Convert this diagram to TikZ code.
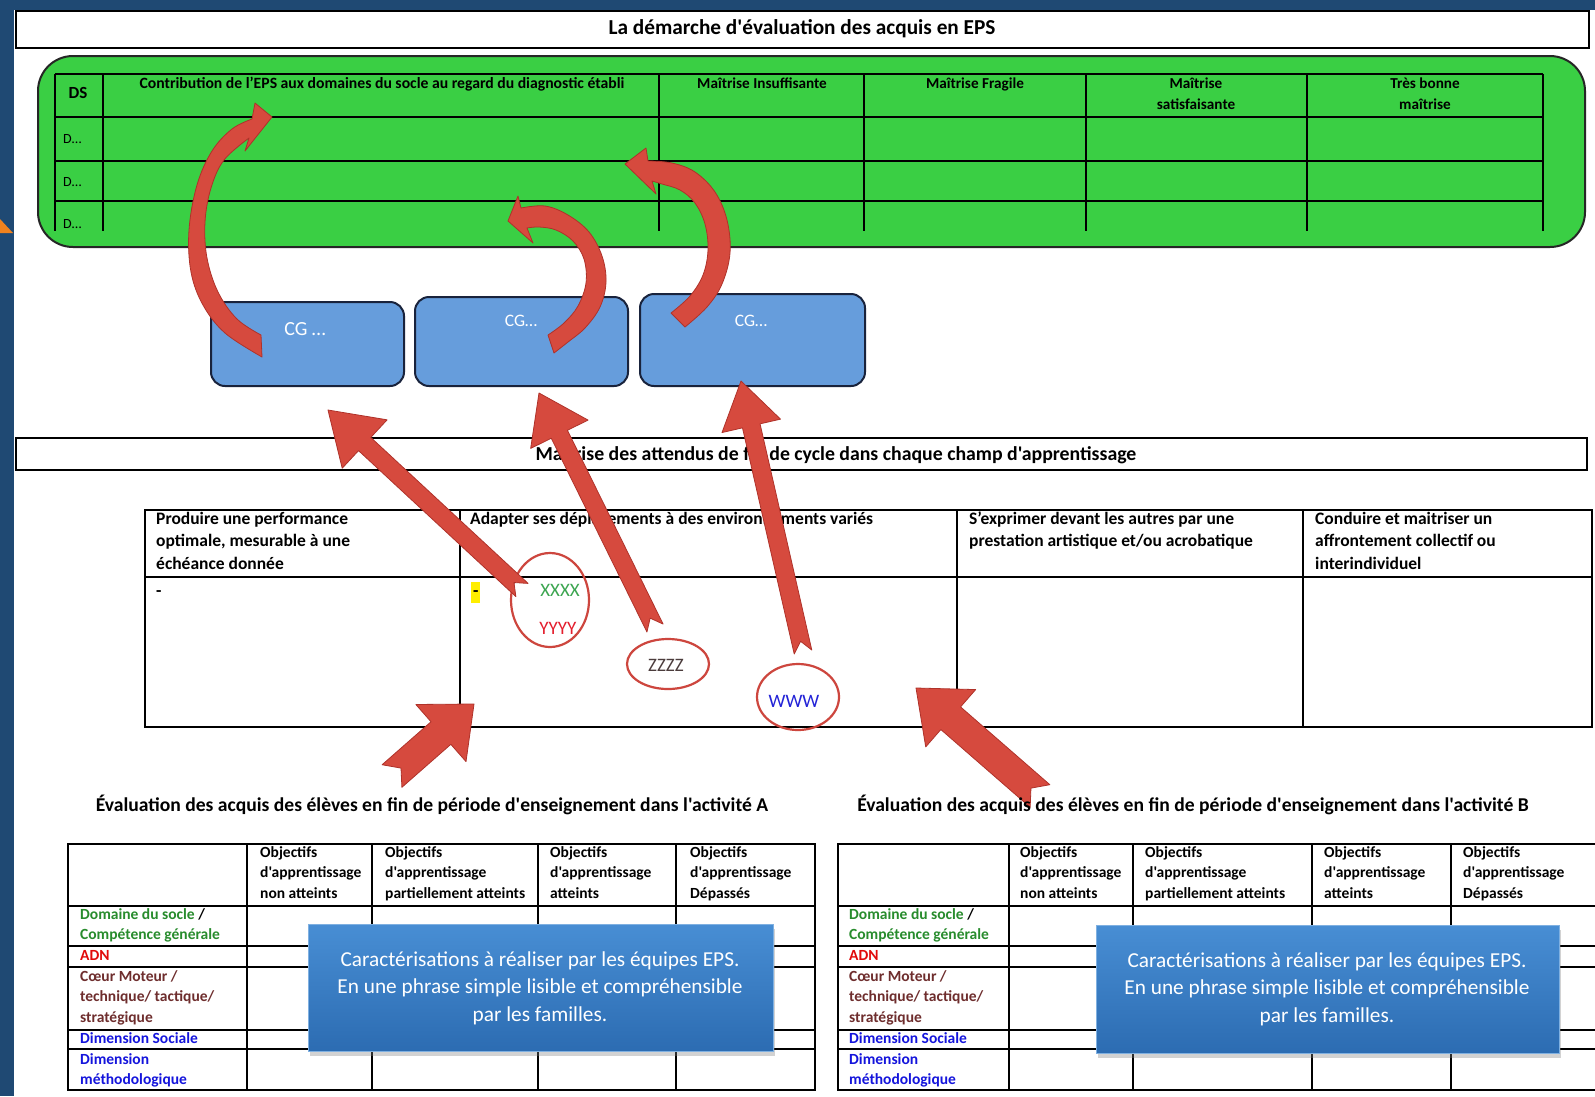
\documentclass[tikz,border=0pt]{standalone}
\usepackage{fontspec}
\setmainfont{Carlito}[Ligatures=TeXOff]
\usetikzlibrary{calc,shapes.geometric,shadows}

\definecolor{navy}{RGB}{31,73,115}
\definecolor{bggreen}{RGB}{58,207,68}
\definecolor{cgblue}{RGB}{102,157,220}
\definecolor{cgborder}{RGB}{25,35,60}
\definecolor{arrowred}{RGB}{214,74,62}
\definecolor{arrowdark}{RGB}{175,50,42}
\definecolor{ellred}{RGB}{205,70,62}
\definecolor{xgreen}{RGB}{60,165,80}
\definecolor{yred}{RGB}{228,30,45}
\definecolor{zgray}{RGB}{75,60,60}
\definecolor{wblue}{RGB}{35,35,215}
\definecolor{lgreen}{RGB}{40,140,45}
\definecolor{lred}{RGB}{225,10,10}
\definecolor{lbrown}{RGB}{110,45,45}
\definecolor{lblue}{RGB}{20,20,220}
\definecolor{calltop}{RGB}{72,142,212}
\definecolor{callbot}{RGB}{44,108,178}
\definecolor{hlyellow}{RGB}{255,238,0}
\definecolor{orangetri}{RGB}{240,130,30}

\newcommand{\bigredarrow}[7]{%
  \coordinate (#1t) at #2;
  \coordinate (#1h) at #3;
  \coordinate (#1b) at ($(#1h)!#6!(#1t)$);
  \path[redarrow] ($(#1t)!#4!90:(#1h)$) -- ($(#1b)!#4!90:(#1h)$) -- ($(#1b)!#5!90:(#1h)$) -- (#1h)
     -- ($(#1b)!#5!-90:(#1h)$) -- ($(#1b)!#4!-90:(#1h)$) -- ($(#1t)!#4!-90:(#1h)$) -- ($(#1t)!#7!(#1h)$) -- cycle;
}
\newcommand{\rowlabels}[2]{%
  \node[bcell] (#2l1) at (#1,919) {\textcolor{lgreen}{Domaine du socle} /\\\textcolor{lgreen}{Compétence générale}};
  \node[bcell, text=lred] (#2l2) at (#1,960) {ADN};
  \node[bcell, text=lbrown] (#2l3) at (#1,981) {Cœur Moteur /\\technique/ tactique/\\stratégique};
  \node[bcell, text=lblue] (#2l4) at (#1,1043) {Dimension Sociale};
  \node[bcell, text=lblue] (#2l5) at (#1,1064) {Dimension\\méthodologique};
}
\newcommand{\objheads}[5]{%
  \node[bcell] (#1o1) at (#2,857) {Objectifs\\d'apprentissage\\non atteints};
  \node[bcell] (#1o2) at (#3,857) {Objectifs\\d'apprentissage\\partiellement atteints};
  \node[bcell] (#1o3) at (#4,857) {Objectifs\\d'apprentissage\\atteints};
  \node[bcell] (#1o4) at (#5,857) {Objectifs\\d'apprentissage\\Dépassés};
}

\begin{document}
\begin{tikzpicture}[x=1pt,y=-1pt,
  titlebox/.style={draw=black, line width=1.6pt, fill=white, inner sep=0pt},
  titletext/.style={font=\bfseries\fontsize{21.3}{25}\selectfont, inner sep=0pt},
  greenbox/.style={draw=black!85, line width=2pt, fill=bggreen, rounded corners=35pt, inner sep=0pt},
  gridline/.style={draw=black, line width=2pt},
  thinline/.style={draw=black, line width=1.8pt},
  ghead/.style={font=\bfseries\fontsize{15.2}{21}\selectfont, inner sep=0pt, anchor=base, align=flush center, text width=210pt},
  dlabel/.style={font=\fontsize{14}{16}\selectfont, inner sep=0pt, anchor=west},
  cgbox/.style={draw=cgborder, fill=cgblue, line width=2pt, rounded corners=14pt, inner sep=0pt},
  cgtext/.style={text=white, inner sep=0pt},
  tcell/.style={anchor=base west, inner sep=0pt, align=flush left, text width=330pt, font=\bfseries\fontsize{17.5}{22.5}\selectfont},
  bcell/.style={anchor=base west, inner sep=0pt, align=flush left, text width=220pt, font=\bfseries\fontsize{15.5}{20.7}\selectfont},
  ell/.style={ellipse, draw=ellred, line width=2.2pt, inner sep=0pt},
  ltext/.style={font=\fontsize{19}{22}\selectfont, inner sep=0pt},
  redarrow/.style={fill=arrowred, draw=arrowdark, line width=0.8pt, line join=round},
  callout/.style={top color=calltop, bottom color=callbot, draw=calltop!70!white, line width=1pt, inner sep=0pt,
     drop shadow={opacity=0.35, shadow xshift=2pt, shadow yshift=-5pt}},
  calltext/.style={text=white, align=center, font=\fontsize{21.3}{27.5}\selectfont, inner sep=0pt},
  blabel/.style={font=\bfseries\fontsize{19.6}{23}\selectfont, inner sep=0pt}
]
\useasboundingbox (0,0) rectangle (1595,1096);
% background
\fill[navy] (0,0) rectangle (1595,1096);
\fill[white] (14,10) rectangle (1595,1096);
\fill[orangetri] (0,219) -- (13,233) -- (0,233) -- cycle;

% ---------- top title ----------
\node[titlebox, minimum width=1573pt, minimum height=37pt] (t1) at (802.5,29.5) {};
\node[titletext] (t1txt) at (802,29) {La démarche d'évaluation des acquis en EPS};

% ---------- green table ----------
\node[greenbox, minimum width=1547pt, minimum height=191pt] (gbox) at (811.5,151.5) {};
\foreach \yy in {74,117,161,201} \draw[gridline] (55,\yy) -- (1543,\yy);
\foreach \xx in {55,103,659,864,1086,1307,1543} \draw[gridline] (\xx,74) -- (\xx,231);
\node[font=\bfseries\fontsize{17}{20}\selectfont, inner sep=0pt] (ds) at (78,93) {DS};
\node[ghead, text width=540pt, font=\bfseries\fontsize{15.7}{21}\selectfont] (gh1) at (382,88) {Contribution de l’EPS aux domaines du socle au regard du diagnostic établi};
\node[ghead] (gh2) at (762,88) {Maîtrise Insuffisante};
\node[ghead] (gh3) at (975,88) {Maîtrise Fragile};
\node[ghead] (gh4) at (1196,88) {Maîtrise\\satisfaisante};
\node[ghead] (gh5) at (1425,88) {Très bonne\\maîtrise};
\node[dlabel] (d1) at (63,139) {D…};
\node[dlabel] (d2) at (63,182) {D…};
\node[dlabel] (d3) at (63,224) {D…};

% ---------- CG boxes ----------
\node[cgbox, minimum width=193pt, minimum height=84pt] (cg1) at (307.5,344) {};
\node[cgbox, minimum width=213pt, minimum height=89pt] (cg2) at (521.5,341.5) {};
\node[cgbox, minimum width=225pt, minimum height=92pt] (cg3) at (752.5,340) {};
\node[cgtext, font=\fontsize{20}{24}\selectfont] (cg1t) at (305,329) {CG …};
\node[cgtext, font=\fontsize{17.5}{21}\selectfont] (cg2t) at (521,321) {CG…};
\node[cgtext, font=\fontsize{17.5}{21}\selectfont] (cg3t) at (751,321) {CG…};

% ---------- curved arrows ----------
\path[redarrow] (272,117) -- (255,103) -- (252,119)
  -- plot[smooth, tension=0.6] coordinates {(252,119) (232,129) (212,151) (197,185) (189,230) (191,272) (203,305) (225,333) (262,357)}
  -- (261,335)
  -- plot[smooth, tension=0.6] coordinates {(261,335) (237,319) (218,292) (207,258) (205,222) (211,188) (224,160) (249,138)}
  -- (245,151) -- cycle;
\path[redarrow] (508,221) -- (518,196) -- (521,208)
  -- plot[smooth, tension=0.6] coordinates {(521,208) (545,206) (568,215) (589,232) (602,256) (606,282) (600,307) (585,328) (568,342) (554,353)}
  -- (548,335)
  -- plot[smooth, tension=0.6] coordinates {(548,335) (564,323) (578,306) (586,283) (584,259) (573,241) (556,230) (539,227) (527,228)}
  -- (533,243) -- cycle;
\path[redarrow] (625,164) -- (646,148) -- (648,161)
  -- plot[smooth, tension=0.6] coordinates {(648,161) (672,163) (695,172) (715,192) (727,220) (730,253) (722,284) (707,307) (685,327)}
  -- (671,313)
  -- plot[smooth, tension=0.6] coordinates {(671,313) (690,296) (703,275) (708,250) (705,224) (695,203) (680,190) (662,184) (652,181)}
  -- (656,194) -- cycle;

% ---------- middle title ----------
\node[titlebox, minimum width=1571pt, minimum height=32pt] (t2) at (801.5,454) {};
\node[titletext, font=\bfseries\fontsize{19.8}{24}\selectfont] (t2txt) at (836,455) {Maitrise des attendus de fin de cycle dans chaque champ d'apprentissage};

% ---------- middle table ----------
\draw[gridline] (145,510) rectangle (1592,727);
\draw[gridline] (145,577) -- (1592,577);
\foreach \xx in {460,957,1303} \draw[gridline] (\xx,510) -- (\xx,727);
\node[tcell] (m1) at (156,524) {Produire une performance\\optimale, mesurable à une\\échéance donnée};
\node[tcell, text width=480pt] (m2) at (470,524) {Adapter ses déplacements à des environnements variés};
\node[tcell] (m3) at (969,524) {S’exprimer devant les autres par une\\prestation artistique et/ou acrobatique};
\node[tcell] (m4) at (1315,524) {Conduire et maitriser un\\affrontement collectif ou\\interindividuel};
\node[tcell] (m5) at (156,596) {-};
\fill[hlyellow] (471,582) rectangle (480,603);
\node[tcell] (m6) at (473,596) {-};

% ellipses
\node[ell, minimum width=78pt, minimum height=94pt] (e1) at (550,600) {};
\node[ltext, text=xgreen] (xx) at (560,590) {XXXX};
\node[ltext, text=yred] (yy) at (558,628) {YYYY};
\node[ell, minimum width=82pt, minimum height=50pt] (e2) at (668,664) {};
\node[ltext, text=zgray] (zz) at (666,665) {ZZZZ};
\node[ell, minimum width=82pt, minimum height=66pt] (e3) at (798,697) {};
\node[ltext, text=wblue] (ww) at (794,701) {WWW};

% straight arrows to CG boxes
\bigredarrow{aa}{(522,590)}{(328,410)}{9pt}{33pt}{50pt}{11pt}
\bigredarrow{ab}{(655,628)}{(539,393)}{9pt}{32pt}{46pt}{11pt}
\bigredarrow{ac}{(803,652)}{(741,381)}{9pt}{30pt}{46pt}{11pt}
% arrows from bottom
\bigredarrow{ad}{(392,776)}{(474,704)}{15pt}{38pt}{44pt}{12pt}
\bigredarrow{ae}{(1040,796)}{(916,688)}{15pt}{38pt}{46pt}{12pt}

% ---------- bottom labels ----------
\node[blabel] (la) at (432,805) {Évaluation des acquis des élèves en fin de période d'enseignement dans l'activité A};
\node[blabel] (lb) at (1193,805) {Évaluation des acquis des élèves en fin de période d'enseignement dans l'activité B};

% ---------- bottom table A ----------
\draw[thinline] (68,844) rectangle (815,1090);
\foreach \yy in {906,946,967,1030,1049} \draw[thinline] (68,\yy) -- (815,\yy);
\foreach \xx in {247,372,538,676} \draw[thinline] (\xx,844) -- (\xx,1090);
\objheads{A}{260}{385}{550}{690}
\rowlabels{80}{A}

% ---------- bottom table B ----------
\draw[thinline] (1600,844) -- (838,844) -- (838,1090) -- (1600,1090);
\foreach \yy in {906,946,967,1030,1049} \draw[thinline] (838,\yy) -- (1600,\yy);
\foreach \xx in {1009,1133,1312,1451} \draw[thinline] (\xx,844) -- (\xx,1090);
\objheads{B}{1020}{1145}{1324}{1463}
\rowlabels{849}{B}

% ---------- callouts ----------
\node[callout, minimum width=465pt, minimum height=127pt] (ca) at (540.5,987.5) {};
\node[calltext] (cat) at (540,988) {Caractérisations à réaliser par les équipes EPS.\\En une phrase simple lisible et compréhensible\\par les familles.};
\node[callout, minimum width=463pt, minimum height=128pt] (cb) at (1327.5,989) {};
\node[calltext] (cbt) at (1327,989) {Caractérisations à réaliser par les équipes EPS.\\En une phrase simple lisible et compréhensible\\par les familles.};
\end{tikzpicture}
\end{document}
